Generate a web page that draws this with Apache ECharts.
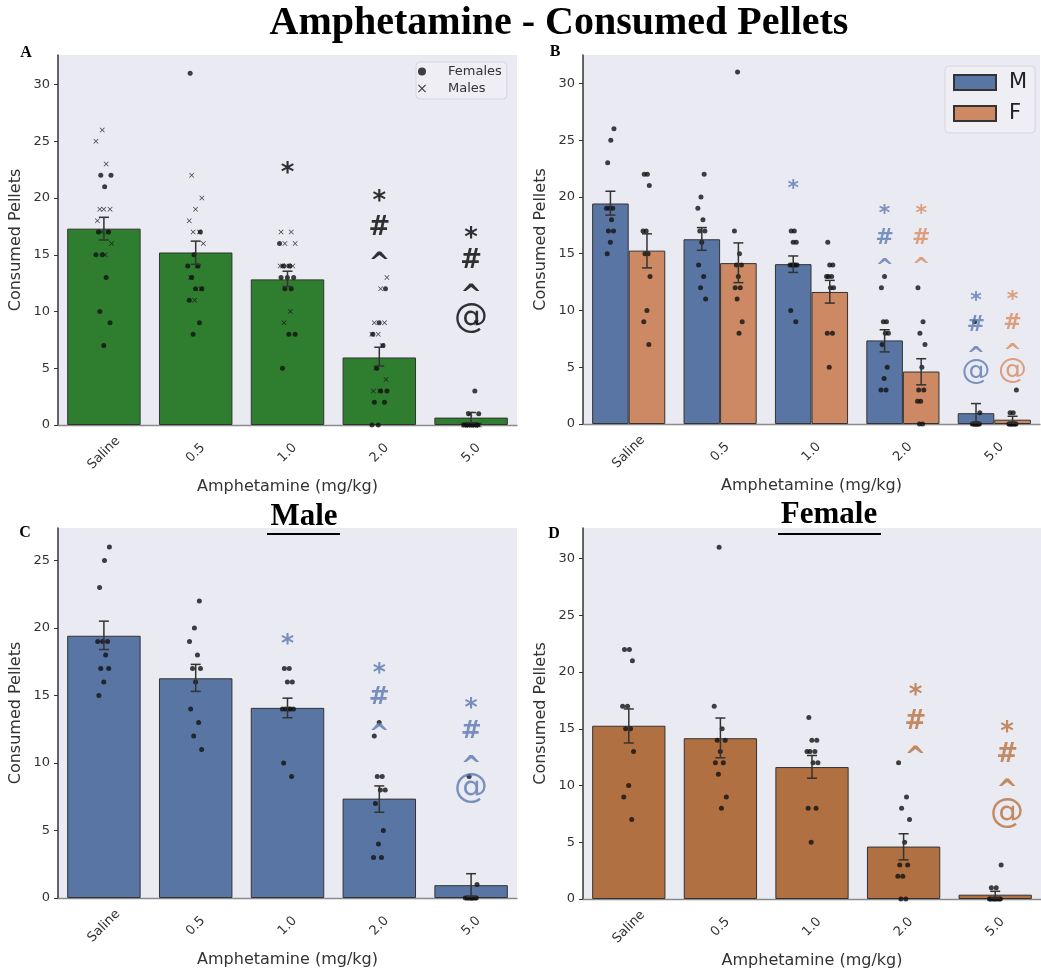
<!DOCTYPE html>
<html>
<head>
<meta charset="utf-8">
<script src="https://cdn.jsdelivr.net/npm/echarts@6/dist/echarts.min.js"></script>
<style>
  html, body { margin: 0; background: #fff; }
  #chart { width: 1041px; height: 973px; }
</style>
</head>
<body>
<div id="chart"></div>
<script>
// doses on the x axis
const doses = ['Saline', '0.5', '1.0', '2.0', '5.0']
const yTicks = [0, 5, 10, 15, 20, 25, 30]
const yTicksMale = [0, 5, 10, 15, 20, 25]

// individual animals, one list per dose
const maleCounts = [
  [26, 25, 23, 19, 19, 19, 18, 17, 17, 16, 15],
  [22, 20, 19, 18, 17, 17, 16, 14, 13, 12, 11],
  [17, 17, 16, 16, 14, 14, 14, 14, 14, 10, 9],
  [13, 12, 9, 9, 8, 8, 7, 5, 4, 3, 3],
  [9, 1, 0, 0, 0, 0, 0, 0, 0, 0, 0]
]
const femaleCounts = [
  [22, 22, 21, 17, 17, 15, 15, 13, 10, 9, 7],
  [31, 17, 15, 14, 14, 13, 12, 12, 11, 9, 8],
  [16, 14, 14, 13, 13, 13, 12, 12, 8, 8, 5],
  [12, 9, 8, 7, 5, 3, 3, 2, 2, 0, 0],
  [3, 1, 1, 0, 0, 0, 0, 0, 0, 0, 0]
]

// bar heights and error bars (mean +/- sem)
const allMean = [17.3, 15.2, 12.83, 5.95, 0.65]
const allLow = [16.3, 14.15, 12.2, 5.2, 0.2]
const allHigh = [18.3, 16.2, 13.55, 6.85, 1.1]
const maleMean = [19.42, 16.27, 14.08, 7.36, 0.95]
const maleLow = [18.4, 15.3, 13.35, 6.35, 0.1]
const maleHigh = [20.5, 17.3, 14.8, 8.3, 1.8]
const femaleMean = [15.27, 14.17, 11.63, 4.62, 0.38]
const femaleLow = [13.75, 12.45, 10.65, 3.45, 0.08]
const femaleHigh = [16.75, 15.95, 12.65, 5.75, 0.68]

// significance marks: [dose index, height, symbol]
const marksA = [[2, 22.6, '*'], [3, 20.2, '*'], [3, 17.4, '#'], [3, 14.8, '^'],
  [4, 16.9, '*'], [4, 14.5, '#'], [4, 11.9, '^'], [4, 9.2, '@']]
const marksBMale = [[2, 21.1, '*'], [3, 18.9, '*'], [3, 16.4, '#'], [3, 14.2, '^'],
  [4, 11.3, '*'], [4, 8.7, '#'], [4, 6.5, '^'], [4, 4.5, '@']]
const marksBFemale = [[3, 18.9, '*'], [3, 16.4, '#'], [3, 14.3, '^'],
  [4, 11.4, '*'], [4, 8.9, '#'], [4, 6.7, '^'], [4, 4.6, '@']]
const marksC = [[2, 19.2, '*'], [3, 17.1, '*'], [3, 14.9, '#'], [3, 12.6, '^'],
  [4, 14.5, '*'], [4, 12.4, '#'], [4, 10.2, '^'], [4, 8.0, '@']]
const marksD = [[3, 18.4, '*'], [3, 15.6, '#'], [3, 13.0, '^'],
  [4, 15.2, '*'], [4, 12.7, '#'], [4, 10.1, '^'], [4, 7.4, '@']]

const GREEN = '#2f7e2f'
const BLUE = '#5975a4'
const ORANGE = '#cc8963'
const BROWN = '#b07041'
const TEXT = '#333'
const SANS = '"DejaVu Sans", sans-serif'
const SERIF = '"Liberation Serif", "Times New Roman", serif'

const panels = [
  { left: 58, top: 55, width: 459, height: 370, max: 32.6, ticks: yTicks },
  { left: 583, top: 55, width: 457, height: 369, max: 32.5, ticks: yTicks },
  { left: 58, top: 528, width: 459, height: 370, max: 27.4, ticks: yTicksMale },
  { left: 583, top: 528, width: 458, height: 371, max: 32.7, ticks: yTicks }
]

// fixed spread for the strip points (golden ratio steps, no randomness)
const jitter = (i, spread) => ((((i * 0.618034) + 0.31) % 1) - 0.5) * 2 * spread

// glyph centre correction, in em
const glyphShift = { '*': 0.24, '^': 0.26, '#': 0.02, '@': -0.06 }

const crossPath = 'path://M1,0L5,4L9,0L10,1L6,5L10,9L9,10L5,6L1,10L0,9L4,5L0,1Z'

function renderErr(params, api) {
  const x = api.value(0)
  const lo = api.coord([x, api.value(1)])
  const hi = api.coord([x, api.value(2)])
  const cap = 5
  const style = { stroke: '#333', lineWidth: 1.5 }
  return {
    type: 'group',
    children: [
      { type: 'line', shape: { x1: lo[0], y1: lo[1], x2: hi[0], y2: hi[1] }, style },
      { type: 'line', shape: { x1: hi[0] - cap, y1: hi[1], x2: hi[0] + cap, y2: hi[1] }, style },
      { type: 'line', shape: { x1: lo[0] - cap, y1: lo[1], x2: lo[0] + cap, y2: lo[1] }, style }
    ]
  }
}

const barSeries = (name, p, data, color, extra) => Object.assign({
  type: 'bar',
  name,
  xAxisIndex: 2 * p,
  yAxisIndex: p,
  data,
  barCategoryGap: '20%',
  itemStyle: { color, borderColor: '#333', borderWidth: 1 },
  z: 2
}, extra || {})

const errSeries = (p, dx, lo, hi) => ({
  type: 'custom',
  xAxisIndex: 2 * p + 1,
  yAxisIndex: p,
  renderItem: renderErr,
  data: lo.map((v, i) => [i + dx, v, hi[i]]),
  encode: { x: 0, y: [1, 2] },
  silent: true,
  z: 6
})

const pointSeries = (name, p, groups, dx, spread, symbol, size, seed) => ({
  type: 'scatter',
  name,
  xAxisIndex: 2 * p + 1,
  yAxisIndex: p,
  symbol,
  symbolSize: size,
  itemStyle: { color: '#111' },
  silent: true,
  z: 5,
  data: groups.flatMap((vals, d) => vals.map((v, i) => [d + dx + jitter(i + seed + d * 3, spread), v]))
})

const markSeries = (p, marks, dx, color, size, atSize) => ({
  type: 'scatter',
  xAxisIndex: 2 * p + 1,
  yAxisIndex: p,
  symbolSize: 1,
  itemStyle: { color: 'rgba(0,0,0,0)' },
  silent: true,
  z: 7,
  data: marks.map(([d, v, ch]) => {
    const fs = ch === '@' ? atSize : size
    return {
      value: [d + dx, v],
      label: {
        show: true,
        position: 'inside',
        formatter: ch,
        fontSize: fs,
        fontWeight: ch === '@' ? 'normal' : 'bold',
        fontFamily: SANS,
        color,
        offset: [0, glyphShift[ch] * fs]
      }
    }
  })
})

const grid = panels.map(g => ({
  left: g.left, top: g.top, width: g.width, height: g.height,
  show: true, backgroundColor: '#eaeaf2', borderWidth: 0
}))

const xAxis = []
panels.forEach((g, p) => {
  xAxis.push({
    type: 'category',
    gridIndex: p,
    data: doses,
    name: 'Amphetamine (mg/kg)',
    nameLocation: 'middle',
    nameGap: 54,
    nameTextStyle: { fontSize: 16, color: TEXT, fontFamily: SANS },
    axisLine: { onZero: false, lineStyle: { color: '#8a8a8a', width: 1.3 } },
    axisTick: { show: false },
    axisLabel: {
      rotate: 45, align: 'center', verticalAlign: 'middle', margin: 28,
      fontSize: 13, color: TEXT, fontFamily: SANS
    }
  })
  xAxis.push({ type: 'value', gridIndex: p, min: -0.5, max: 4.5, show: false })
})

const yAxis = panels.map((g, p) => ({
  type: 'value',
  gridIndex: p,
  min: 0,
  max: g.max,
  interval: 5,
  name: 'Consumed Pellets',
  nameLocation: 'middle',
  nameGap: 34,
  nameTextStyle: { fontSize: 16, color: TEXT, fontFamily: SANS },
  axisLine: { show: true, onZero: false, lineStyle: { color: '#333', width: 1.5 } },
  axisTick: { show: true, length: 4, customValues: g.ticks, lineStyle: { color: '#333' } },
  axisLabel: { customValues: g.ticks, fontSize: 13, color: TEXT, fontFamily: SANS, margin: 8 },
  splitLine: { show: false }
}))

const series = [
  // A: everyone pooled
  barSeries('all', 0, allMean, GREEN, { barWidth: '80%' }),
  pointSeries('Females', 0, femaleCounts, 0, 0.09, 'circle', 5, 0),
  pointSeries('Males', 0, maleCounts, 0, 0.09, crossPath, 5, 5),
  errSeries(0, 0, allLow, allHigh),
  markSeries(0, marksA, 0, '#000', 26, 34),

  // B: by sex
  barSeries('M', 1, maleMean, BLUE, { barGap: '0%' }),
  barSeries('F', 1, femaleMean, ORANGE, { barGap: '0%' }),
  pointSeries('', 1, maleCounts, -0.2, 0.045, 'circle', 5, 1),
  pointSeries('', 1, femaleCounts, 0.2, 0.045, 'circle', 5, 2),
  errSeries(1, -0.2, maleLow, maleHigh),
  errSeries(1, 0.2, femaleLow, femaleHigh),
  markSeries(1, marksBMale, -0.2, '#5b7ab4', 22, 29),
  markSeries(1, marksBFemale, 0.2, '#d88b5e', 22, 29),

  // C: male only
  barSeries('Male', 2, maleMean, BLUE, { barWidth: '80%' }),
  pointSeries('', 2, maleCounts, 0, 0.07, 'circle', 5, 1),
  errSeries(2, 0, maleLow, maleHigh),
  markSeries(2, marksC, 0, '#5b78b0', 25, 34),

  // D: female only
  barSeries('Female', 3, femaleMean, BROWN, { barWidth: '80%' }),
  pointSeries('', 3, femaleCounts, 0, 0.07, 'circle', 5, 2),
  errSeries(3, 0, femaleLow, femaleHigh),
  markSeries(3, marksD, 0.13, '#b8703d', 26, 34)
]

const legend = [
  {
    orient: 'vertical', left: 416, top: 62,
    data: ['Females', 'Males'],
    itemWidth: 30, itemHeight: 8, itemGap: 4,
    padding: [3, 5, 4, 2],
    backgroundColor: '#eeeef4', borderColor: '#d6d6de', borderWidth: 1, borderRadius: 4,
    textStyle: { fontSize: 13, color: TEXT, fontFamily: SANS, padding: [0, 0, 0, 6] },
    selectedMode: false
  },
  {
    orient: 'vertical', left: 945, top: 66,
    data: ['M', 'F'],
    icon: 'rect',
    itemWidth: 42, itemHeight: 15, itemGap: 10,
    padding: [6, 8, 9, 8],
    backgroundColor: '#eeeef4', borderColor: '#d6d6de', borderWidth: 1, borderRadius: 4,
    textStyle: { fontSize: 21, color: '#222', fontFamily: SANS, padding: [0, 0, 0, 8] },
    selectedMode: false
  }
]

const serifText = (text, x, y, size) => ({
  type: 'text',
  style: { text, x, y, align: 'center', verticalAlign: 'middle', fontSize: size, fontWeight: 'bold', fontFamily: SERIF, fill: '#000' }
})

const graphic = [
  serifText('Amphetamine - Consumed Pellets', 559, 24, 40),
  serifText('A', 26, 53, 16),
  serifText('B', 555, 52, 16),
  serifText('C', 25, 533, 16),
  serifText('D', 554, 534, 16),
  serifText('Male', 304, 517, 31),
  serifText('Female', 829, 515, 31),
  { type: 'line', shape: { x1: 267, y1: 534, x2: 340, y2: 534 }, style: { stroke: '#000', lineWidth: 2 } },
  { type: 'line', shape: { x1: 778, y1: 534, x2: 881, y2: 534 }, style: { stroke: '#000', lineWidth: 2 } }
]

const chart = echarts.init(document.getElementById('chart'))
chart.setOption({
  animation: false,
  backgroundColor: '#fff',
  grid,
  xAxis,
  yAxis,
  legend,
  series,
  graphic
})
</script>
</body>
</html>
